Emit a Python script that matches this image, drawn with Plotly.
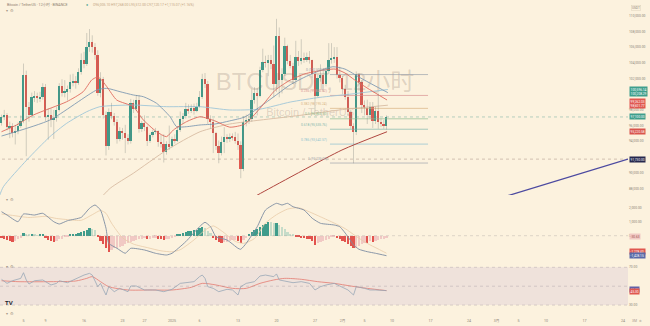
import pandas as pd
import plotly.graph_objects as go
from plotly.subplots import make_subplots

# ---------------------------------------------------------------- data
T0 = pd.Timestamp("2024-12-01 00:00")      # first 12h candle (UTC+8)
BAR = pd.Timedelta(hours=12)

first_open = 96300
close_k = [97.1, 97.3, 95.8, 95.9, 95.0, 95.3, 96.0, 96.6, 102.4, 98.4,
           97.3, 99.6, 99.8, 99.5, 99.7, 100.9, 97.1, 97.4, 96.7, 97.0,
           98.0, 101.1, 100.1, 100.4, 100.6, 101.5, 101.7, 101.4, 102.8, 104.4,
           103.8, 106.0, 106.7, 106.0, 105.0, 100.2, 101.9, 97.3, 93.4, 97.7,
           97.2, 96.4, 94.3, 95.3, 95.0, 94.4, 94.0, 98.9, 98.1, 99.3,
           95.6, 96.3, 95.8, 94.1, 94.8, 95.2, 95.3, 93.9, 93.6, 92.6,
           93.6, 93.4, 94.3, 94.1, 95.5, 96.8, 97.2, 98.1, 97.9, 98.2,
           97.9, 98.4, 99.7, 101.9, 101.3, 96.8, 96.4, 95.0, 93.4, 92.5,
           93.9, 94.6, 94.3, 94.6, 94.5, 94.0, 93.5, 90.5, 96.5, 96.6,
           96.9, 99.2, 100.2, 99.8, 103.1, 104.1, 104.0, 104.4, 103.8, 101.3,
           107.4, 101.8, 102.6, 106.1, 104.2, 103.6, 101.8, 104.7, 104.2, 104.6,
           104.4, 104.7, 104.3, 102.6, 99.8, 102.1, 102.5, 101.3, 102.9, 104.3,
           104.6, 104.8, 102.5, 102.1, 100.6, 99.6, 97.7, 96.0, 95.2, 102.6,
           101.6, 98.6, 98.2, 97.3, 98.4, 96.6, 97.9, 96.5, 96.2, 96.0,
           97.1]
high_k = [97.4, 98.0, 97.6, 96.5, 96.3, 96.1, 96.4, 97.3, 103.9, 103.0,
          99.0, 100.2, 100.4, 100.2, 100.3, 101.4, 101.3, 98.2, 98.2, 98.0,
          98.4, 101.4, 101.9, 101.8, 101.1, 102.5, 102.6, 102.3, 103.3, 105.2,
          105.4, 107.8, 108.3, 107.5, 106.5, 105.6, 102.8, 102.2, 97.8, 98.2,
          98.9, 97.6, 96.8, 95.8, 95.7, 96.1, 94.9, 99.4, 99.3, 99.9,
          99.9, 96.6, 97.3, 96.0, 95.0, 95.5, 95.7, 95.4, 94.8, 94.9,
          94.0, 96.0, 94.6, 94.9, 95.9, 97.8, 97.6, 98.9, 98.7, 98.7,
          98.8, 98.9, 100.4, 102.6, 102.7, 101.7, 97.3, 96.9, 95.2, 94.1,
          94.6, 95.8, 94.9, 95.0, 95.0, 95.2, 95.0, 94.0, 97.2, 97.4,
          97.3, 100.7, 100.9, 100.8, 103.5, 105.8, 104.9, 105.0, 105.0, 106.2,
          109.6, 108.5, 103.3, 107.2, 106.3, 105.0, 104.0, 106.8, 105.5, 107.0,
          105.3, 105.3, 105.5, 104.4, 102.8, 102.5, 103.8, 103.3, 103.4, 106.5,
          106.5, 106.0, 106.0, 103.5, 102.3, 101.2, 100.4, 98.0, 96.3, 102.9,
          102.7, 101.8, 99.2, 99.3, 99.0, 99.0, 98.4, 100.1, 96.9, 96.7,
          97.3]
low_k = [96.0, 96.7, 95.4, 94.4, 94.5, 93.6, 94.9, 95.7, 96.3, 92.1,
         96.5, 97.0, 99.0, 98.9, 99.0, 99.3, 96.6, 94.2, 95.8, 94.3,
         96.5, 97.8, 99.7, 99.6, 99.2, 100.2, 101.0, 100.7, 101.2, 102.5,
         103.3, 103.6, 105.4, 105.3, 104.4, 99.8, 99.6, 96.9, 92.2, 92.9,
         96.8, 96.0, 93.7, 94.0, 94.2, 92.5, 93.6, 93.7, 97.6, 97.9,
         95.1, 95.2, 95.3, 93.4, 93.8, 94.5, 94.9, 93.3, 93.2, 91.3,
         92.3, 92.9, 93.2, 93.7, 93.9, 95.2, 96.2, 96.9, 97.5, 97.6,
         97.4, 97.7, 98.3, 99.4, 100.8, 96.2, 95.6, 92.5, 92.9, 91.2,
         92.2, 92.5, 93.8, 93.9, 94.1, 93.7, 92.9, 89.3, 90.2, 95.9,
         96.2, 96.5, 98.8, 97.3, 99.6, 102.8, 103.4, 102.3, 103.2, 99.6,
         100.3, 99.6, 100.1, 102.3, 103.8, 103.3, 101.3, 101.3, 103.6, 103.8,
         104.0, 104.1, 103.9, 102.1, 97.8, 99.6, 101.6, 100.3, 101.0, 102.6,
         103.9, 104.0, 102.0, 101.5, 100.0, 99.3, 97.2, 95.6, 91.2, 94.8,
         100.4, 97.6, 97.3, 96.2, 96.9, 95.7, 96.2, 95.6, 95.8, 95.6,
         95.5]

# moving averages: (candle index, price)
ma_fast_idx = [0, 5.5, 11.6, 23.7, 29.7, 32.8, 34.6, 35.8, 38.3, 41.9, 47.9, 51.6, 56.4, 60, 62.5,
               67.3, 72.2, 77.6, 83, 88.5, 94, 99.5, 105, 110.4, 115.8, 121.3, 124.9, 128.5, 132.9, 140.2]
ma_fast_val = [95220, 96080, 97350, 99040, 100320, 101810, 102150, 102030, 100960, 99260, 98410, 96710,
               95220, 94590, 95440, 96500, 97130, 96600, 95800, 96200, 98200, 100500, 101800, 102600,
               103000, 103200, 102700, 101800, 100800, 99260]
ma_mid_idx = [0, 17.6, 34.6, 38.3, 43.1, 47.9, 51.6, 56.4, 61.3, 63.7, 67.3, 72.2, 77.6, 83, 88.5, 94,
              99.5, 105, 110.4, 115.8, 120.5, 124.9, 130.4, 135.1, 140.5]
ma_mid_val = [94670, 96710, 100530, 100750, 100320, 99900, 99680, 98840, 97130, 95860, 95860, 96080,
              96200, 96600, 97100, 98400, 99800, 101200, 102200, 103000, 103500, 103200, 102100,
              101200, 100200]
ma_slow_idx = [-1, 0.7, 9.2, 17.6, 23.7, 31, 35.8, 47.9, 60.1, 72.2, 83, 94, 105, 115.8, 126.7, 140.5]
ma_slow_val = [86800, 88220, 91620, 94590, 96290, 97770, 98410, 98620, 98410, 98410, 97990, 98100,
               99000, 99600, 100000, 100600]
ma_long_idx = [32.2, 39.5, 47.9, 60.1, 72.2, 83, 94, 108.5, 123, 140.5]
ma_long_val = [85250, 88010, 89920, 92890, 95220, 96200, 96700, 97300, 98000, 98600]
ma_vlong_idx = [86.7, 93.3, 123.8, 140.2]
ma_vlong_val = [85900, 87200, 92890, 95220]

# MACD
macd_hist = [-150, -200, -300, -400, -430, -350, -250, -150, 160, 80,
             60, 90, 70, 50, 60, 100, -150, -300, -380, -430,
             -350, -250, -200, -120, -50, 60, 100, 150, 220, 290,
             330, 420, 520, 480, 420, -100, -350, -600, -850, -1140,
             -1000, -900, -850, -780, -700, -620, -540, -430, -350, -280,
             -250, -200, -180, -260, -200, -150, -130, -200, -230, -300,
             -250, -200, -150, -100, 60, 150, 220, 280, 330, 370,
             400, 440, 520, 640, 560, 350, 180, -150, -300, -450,
             -550, -480, -420, -380, -330, -300, -380, -500, -300, -150,
             80, 250, 380, 450, 600, 750, 850, 1000, 950, 880,
             900, 750, 600, 480, 300, 150, 60, -80, -120, -150,
             -180, -200, -250, -350, -660, -550, -480, -400, -300, -200,
             -120, -80, -150, -250, -350, -450, -600, -750, -900, -850,
             -700, -600, -500, -550, -400, -450, -350, -300, -250, -200,
             -150]
macd_idx = [0, 2, 6, 8, 12, 15, 19, 21, 24, 29, 32, 34, 36, 38, 39, 42, 45, 47, 52, 56, 60, 62, 67,
            72, 74, 76, 78, 82, 86, 87, 89, 93, 96, 100, 102, 104, 106, 110, 113, 116, 121, 123, 126,
            128, 130, 133, 136, 140]
macd_val = [1714, 1478, 1000, 1550, 1478, 1600, 1000, 835, 1071, 1310, 1956, 2192, 1835, 528, -543,
            -900, -1257, -900, -1021, -1257, -1378, -1257, -428, 643, 957, 643, -71, -307, -900, -971,
            -543, 643, 1835, 2313, 2192, 2313, 2071, 1835, 1242, 885, 764, 643, -71, -664, -971, -1142,
            -1257, -1428]
signal_idx = [0, 4, 10, 16, 20, 24, 29, 33, 36, 38, 40, 44, 48, 53, 58, 62, 65, 70, 74, 77, 80, 85,
              88, 92, 96, 100, 104, 108, 112, 116, 121, 125, 129, 133, 137, 140]
signal_val = [1550, 1450, 1300, 1380, 1230, 1150, 1100, 1500, 1800, 1600, 900, -150, -600, -850,
              -1080, -1150, -1000, -300, 400, 700, 350, -400, -550, -200, 900, 1500, 1900, 2000,
              1700, 1350, 900, 500, -50, -550, -950, -1250]

# RSI
rsi_idx = [0, 2, 4, 7, 8, 9, 10, 12, 15, 18, 20, 21, 24, 29, 30, 32, 33, 35, 36, 37, 38, 39, 41, 43,
           46, 47, 49, 52, 56, 59, 62, 65, 67, 70, 72, 73, 74, 75, 77, 79, 82, 84, 86, 87, 89, 92,
           94, 96, 99, 100, 101, 104, 106, 109, 112, 114, 116, 118, 121, 123, 126, 128, 129, 132,
           134, 136, 139, 140]
rsi_val = [57.3, 53.0, 55.8, 58.3, 64.3, 56.6, 52.3, 55.8, 56.6, 51.3, 53.0, 55.8, 53.7, 60.8, 61.8,
           63.6, 61.8, 49.5, 53.0, 46.7, 40.7, 49.5, 44.2, 47.7, 44.2, 50.2, 50.2, 46.0, 46.0, 44.2,
           46.7, 53.0, 53.7, 54.8, 60.1, 61.8, 58.3, 49.5, 47.7, 44.2, 46.7, 46.0, 40.7, 49.5, 53.0,
           54.8, 60.8, 61.8, 60.1, 63.0, 56.6, 54.8, 53.7, 54.8, 53.0, 46.0, 49.5, 51.3, 53.0, 50.2,
           46.0, 40.7, 49.5, 47.7, 46.0, 46.0, 45.3, 45.3]
rsi_ma_idx = [0, 6, 18, 27, 31, 33, 36, 39, 46, 54, 62, 69, 73, 78, 84, 89, 94, 99, 103, 109, 115,
              121, 127, 133, 140]
rsi_ma_val = [55.8, 54.8, 54.8, 55.5, 58.3, 60.1, 54.8, 49.5, 46.0, 46.0, 46.0, 48.8, 53.0, 51.3,
              47.7, 47.7, 53.0, 56.6, 58.3, 57.3, 54.8, 53.0, 50.2, 47.7, 45.3]

# drawings
fib_high, fib_low = 102500, 91231
fib_levels = [0, 0.236, 0.382, 0.5, 0.618, 0.786, 1]
fib_names = ["0", "0.236", "0.382", "0.5", "0.618", "0.786", "1"]
fib_colors = ["#9aa0aa", "#d99090", "#d8b283", "#92bf92", "#7fb6ac", "#8cc2cf", "#a0a4ac"]
fib_span = (119.45, 155.1)
level_line = 91730
trend_pts = [("2025-02-24 00:00", 85560), ("2025-03-24 21:40", 91740)]

date_ticks = ["2024-12-01", "2024-12-05", "2024-12-09", "2024-12-16", "2024-12-23", "2024-12-27",
              "2025-01-01", "2025-01-06", "2025-01-13", "2025-01-20", "2025-01-27", "2025-02-01",
              "2025-02-05", "2025-02-10", "2025-02-17", "2025-02-24", "2025-03-01", "2025-03-05",
              "2025-03-10", "2025-03-17", "2025-03-24"]
date_labels = ["12月", "5", "9", "16", "23", "27", "2025", "6", "13", "20", "27", "2月",
               "5", "10", "17", "24", "3月", "5", "10", "17", "24"]
price_ticks = [88000, 90000, 94000, 96000, 98000, 102000, 104000, 106000, 108000, 110000]

# ---------------------------------------------------------------- helpers
def at(i):
    return T0 + BAR * i

n = len(close_k)
times = [at(i) for i in range(n)]
close = [v * 1000 for v in close_k]
high = [v * 1000 for v in high_k]
low = [v * 1000 for v in low_k]
opens = [first_open] + close[:-1]

BG = "#FCF2DE"
UP, DN = "#3b9c8b", "#e2594f"
W = 650.0
H = 326.0
XR = 628 / W

fig = make_subplots(rows=4, cols=1, shared_xaxes=True, vertical_spacing=0)

# watermark (behind everything else in the price pane)
fig.add_trace(go.Scatter(x=[at(114.0)], y=[101300], mode="text", text=["BTCUSDT, 12小时"],
                         textfont=dict(size=24, color="rgba(125,105,95,0.24)",
                                       family="Liberation Sans, Noto Sans CJK SC"),
                         hoverinfo="skip", showlegend=False), 1, 1)
fig.add_trace(go.Scatter(x=[at(112.2)], y=[97600], mode="text", text=["Bitcoin / TetherUS"],
                         textfont=dict(size=11, color="rgba(125,105,95,0.24)",
                                       family="Liberation Sans"),
                         hoverinfo="skip", showlegend=False), 1, 1)

# horizontal level and last-price lines
fig.add_trace(go.Scatter(x=[at(-2), at(240)], y=[level_line, level_line], mode="lines",
                         line=dict(color="rgba(150,125,115,0.6)", width=0.7, dash="dot"),
                         hoverinfo="skip", showlegend=False), 1, 1)
fig.add_trace(go.Scatter(x=[at(-2), at(240)], y=[close[-1], close[-1]], mode="lines",
                         line=dict(color="rgba(70,150,140,0.55)", width=0.7, dash="dot"),
                         hoverinfo="skip", showlegend=False), 1, 1)

# fibonacci retracement
for lvl, name, col in zip(fib_levels, fib_names, fib_colors):
    p = fib_high - (fib_high - fib_low) * lvl
    fig.add_trace(go.Scatter(x=[at(fib_span[0]), at(fib_span[1])], y=[p, p], mode="lines",
                             line=dict(color=col, width=0.7), hoverinfo="skip",
                             showlegend=False), 1, 1)
    fig.add_annotation(x=at(fib_span[0]), y=p, xref="x", yref="y", xanchor="right",
                       yanchor="bottom", text=f"{name} ({p:,.2f})", showarrow=False,
                       font=dict(size=3.3, color=col), xshift=-1, yshift=0.5)

# moving averages
for idx, val, col, w in [(ma_long_idx, ma_long_val, "#d8bca3", 0.9),
                         (ma_vlong_idx, ma_vlong_val, "#b0463f", 1.0),
                         (ma_slow_idx, ma_slow_val, "#9fc6d8", 0.9),
                         (ma_mid_idx, ma_mid_val, "#7f9ab2", 0.9),
                         (ma_fast_idx, ma_fast_val, "#e06a5e", 0.9)]:
    fig.add_trace(go.Scatter(x=[at(i) for i in idx], y=val, mode="lines",
                             line=dict(color=col, width=w, shape="spline", smoothing=0.6),
                             hoverinfo="skip", showlegend=False), 1, 1)

# candles: wicks then bodies
wx, wy = [], []
for t, lo, hi in zip(times, low, high):
    wx += [t, t, None]
    wy += [lo, hi, None]
fig.add_trace(go.Scatter(x=wx, y=wy, mode="lines", line=dict(color="rgba(120,125,120,0.55)", width=0.6),
                         hoverinfo="skip", showlegend=False), 1, 1)
fig.add_trace(go.Bar(x=times, base=[min(o, c) for o, c in zip(opens, close)],
                     y=[max(abs(c - o), 70) for o, c in zip(opens, close)],
                     marker=dict(color=[UP if c >= o else DN for o, c in zip(opens, close)],
                                 line=dict(width=0)),
                     width=0.64 * BAR.total_seconds() * 1000, hoverinfo="skip",
                     showlegend=False), 1, 1)

# trend line to the right
fig.add_trace(go.Scatter(x=[pd.Timestamp(p[0]) for p in trend_pts], y=[p[1] for p in trend_pts],
                         mode="lines", line=dict(color="#4c4aa0", width=1.3),
                         hoverinfo="skip", showlegend=False), 1, 1)

# MACD pane
hist_cols = []
for k, v in enumerate(macd_hist):
    prev = macd_hist[k - 1] if k else v
    if v >= 0:
        hist_cols.append("#3f9c8b" if v >= prev else "#c6dcc9")
    else:
        hist_cols.append("#e2534d" if v <= prev else "#f1c9c4")
fig.add_trace(go.Bar(x=times, y=macd_hist, marker=dict(color=hist_cols, line=dict(width=0)),
                     width=0.8 * BAR.total_seconds() * 1000, hoverinfo="skip",
                     showlegend=False), 2, 1)
fig.add_trace(go.Scatter(x=[at(-2), at(240)], y=[0, 0], mode="lines",
                         line=dict(color="rgba(150,140,140,0.5)", width=0.6, dash="dot"),
                         hoverinfo="skip", showlegend=False), 2, 1)
fig.add_trace(go.Scatter(x=[at(i) for i in signal_idx], y=signal_val, mode="lines",
                         line=dict(color="#e9cba8", width=0.8, shape="spline", smoothing=0.6),
                         hoverinfo="skip", showlegend=False), 2, 1)
fig.add_trace(go.Scatter(x=[at(i) for i in macd_idx], y=macd_val, mode="lines",
                         line=dict(color="#7d8ca2", width=0.9, shape="spline", smoothing=0.5),
                         hoverinfo="skip", showlegend=False), 2, 1)

# RSI pane
fig.add_shape(type="rect", xref="x3 domain", yref="y3", x0=0, x1=1, y0=30, y1=70,
              fillcolor="rgba(126,87,194,0.10)", line=dict(width=0), layer="below")
for lv in (70, 50, 30):
    fig.add_shape(type="line", xref="x3 domain", yref="y3", x0=0, x1=1, y0=lv, y1=lv,
                  line=dict(color="rgba(150,140,150,0.55)", width=0.6, dash="dot"))
fig.add_trace(go.Scatter(x=[at(i) for i in rsi_ma_idx], y=rsi_ma_val, mode="lines",
                         line=dict(color="#e5867c", width=0.9, shape="spline", smoothing=0.7),
                         hoverinfo="skip", showlegend=False), 3, 1)
fig.add_trace(go.Scatter(x=[at(i) for i in rsi_idx], y=rsi_val, mode="lines",
                         line=dict(color="#98a7b6", width=0.8),
                         hoverinfo="skip", showlegend=False), 3, 1)

# empty bottom pane carrying the time scale
fig.add_trace(go.Scatter(x=[times[0], times[-1]], y=[0.5, 0.5], mode="lines",
                         line=dict(color="rgba(0,0,0,0)", width=0), hoverinfo="skip",
                         showlegend=False), 4, 1)

# ---------------------------------------------------------------- layout
def dom(top_px, bot_px):
    return [1 - bot_px / H, 1 - top_px / H]

xr = [at(-0.545), at(227.82)]
axis_font = dict(size=3.3, color="#8c8577", family="Roboto")
for k in range(1, 5):
    fig.update_layout(**{f"xaxis{'' if k == 1 else k}": dict(
        domain=[0, XR], range=xr, type="date", showgrid=False, zeroline=False,
        showline=False, ticks="", showticklabels=(k == 4),
        tickmode="array", tickvals=[pd.Timestamp(d) for d in date_ticks], ticktext=date_labels,
        tickfont=dict(size=3.6, color="#8c8577", family="Roboto, Noto Sans CJK SC"))})

fig.update_layout(
    yaxis=dict(domain=dom(0, 195), range=[87159, 112000], side="right", showgrid=False,
               zeroline=False, ticks="", tickvals=price_ticks,
               ticktext=[f"{v:,.2f}" for v in price_ticks], tickfont=axis_font),
    yaxis2=dict(domain=dom(195, 260), range=[-1736, 2907], side="right", showgrid=False,
                zeroline=False, ticks="", tickvals=[2000, 1000, 0],
                ticktext=["2,000.00", "1,000.00", "0.00"], tickfont=axis_font),
    yaxis3=dict(domain=dom(261, 308), range=[26.93, 76.67], side="right", showgrid=False,
                zeroline=False, ticks="", tickvals=[70, 30], ticktext=["70.00", "30.00"],
                tickfont=axis_font),
    yaxis4=dict(domain=dom(308, 317), range=[0, 1], side="right", showgrid=False,
                zeroline=False, showticklabels=False),
    width=650, height=326, margin=dict(l=0, r=0, t=0, b=0),
    paper_bgcolor=BG, plot_bgcolor=BG, barmode="overlay", bargap=0,
    showlegend=False, font=dict(family="Roboto"),
)

# value tags on the right scale
def tag(y, text, bg, yref="y", fg="#ffffff"):
    fig.add_annotation(x=XR, y=y, xref="paper", yref=yref, xanchor="left", yanchor="middle",
                       text=text, showarrow=False, bgcolor=bg, borderpad=0.6,
                       font=dict(size=3.2, color=fg, family="Roboto"), xshift=0.5)

tag(100400, "100,596.14<br>100,208.29", "#3e9e8c")
tag(98860, "99,262.03<br>98,601.77", "#e0574f")
tag(close[-1], f"{close[-1]:,.2f}", "#3e9e8c")
tag(95220, "95,220.58", "#d9554d")
tag(level_line, f"{level_line:,.2f}", "#26284e")
tag(-30, "-30.63", "#f1c9c4", "y2", "#a05050")
tag(-1100, "-1,278.40", "#e0574f", "y2")
tag(-1430, "-1,428.15", "#5a6aa8", "y2")
tag(46.2, "45.32", "#6060a8", "y3")
tag(44.0, "45.30", "#e0574f", "y3")

fig.add_annotation(x=XR, y=1 - 4.5 / H, xref="paper", yref="paper", xanchor="left",
                   text="USDT", showarrow=False, font=dict(size=3.2, color="#8c8577"),
                   bordercolor="#d8cbb5", borderwidth=0.4, borderpad=0.5, xshift=3)

# header legend
fig.add_annotation(x=5 / W, y=1 - 4.7 / H, xref="paper", yref="paper", xanchor="left",
                   yanchor="middle", showarrow=False,
                   text="Bitcoin / TetherUS · 12小时 · BINANCE",
                   font=dict(size=3.6, color="#8d7e6e", family="Roboto, Noto Sans CJK SC"))
fig.add_annotation(x=84 / W, y=1 - 4.7 / H, xref="paper", yref="paper", xanchor="left",
                   yanchor="middle", showarrow=False, text="●",
                   font=dict(size=3.6, color="#3e9e8c"))
fig.add_annotation(x=91 / W, y=1 - 4.7 / H, xref="paper", yref="paper", xanchor="left",
                   yanchor="middle", showarrow=False,
                   text="O96,005.10 H97,268.00 L95,512.00 C97,120.17 +1,115.07 (+1.16%)",
                   font=dict(size=3.4, color="#c4a684", family="Roboto"))
for ypx in (10.3, 199, 266, 313):
    fig.add_annotation(x=4 / W, y=1 - ypx / H, xref="paper", yref="paper", xanchor="left",
                       yanchor="middle", showarrow=False, text="▾  ⚙",
                       font=dict(size=3.8, color="#a8998a"))
fig.add_annotation(x=3 / W, y=1 - 303 / H, xref="paper", yref="paper", xanchor="left",
                   yanchor="middle", showarrow=False, text="<b>TV</b>",
                   font=dict(size=6, color="#1d1e2c", family="Liberation Sans"))
fig.add_annotation(x=XR, y=1 - 320.5 / H, xref="paper", yref="paper", xanchor="left",
                   yanchor="middle", showarrow=False, text="3M   ⚙",
                   font=dict(size=3.4, color="#a8998a"), xshift=2)

fig.write_html("out.html", config={"displayModeBar": False})
